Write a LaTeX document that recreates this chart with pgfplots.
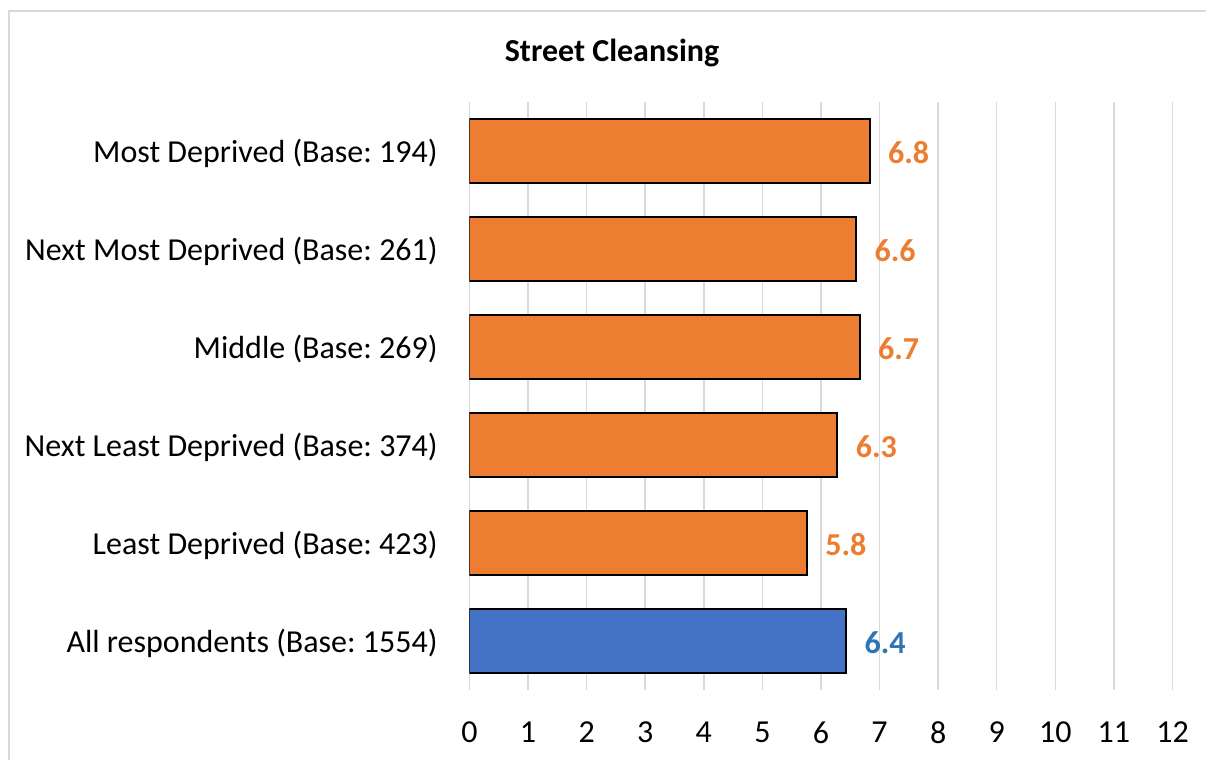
\documentclass[border=0pt]{standalone}
\usepackage{pgfplots}
\pgfplotsset{compat=1.18}
\usepackage{fontspec}
\setmainfont{Carlito}
\frenchspacing
\definecolor{barorange}{HTML}{ED7D31}
\definecolor{barblue}{HTML}{4472C4}
\definecolor{lblorange}{HTML}{ED7D31}
\definecolor{lblblue}{HTML}{2E75B6}
\definecolor{gridgray}{HTML}{D9D9D9}
\begin{document}
\begin{tikzpicture}[x=0.5pt,y=0.5pt]
\useasboundingbox (0,0) rectangle (1206,760);
\draw[gridgray, line width=1pt] (8.5,0) -- (8.5,748.5) -- (1206,748.5);
\node[font=\fontsize{16pt}{19pt}\selectfont\bfseries] at (612,707) {Street Cleansing};
\begin{axis}[
  at={(234.75pt,35pt)}, anchor=south west,
  scale only axis, width=351.5pt, height=294pt,
  xmin=0, xmax=12, ymin=-0.5, ymax=5.5,
  xbar, bar width=0.663, bar shift=0pt,
  axis line style={draw=none},
  xtick={0,...,12}, ytick={0,...,5},
  yticklabels={All respondents (Base: 1554),Least Deprived (Base: 423),Next Least Deprived (Base: 374),Middle (Base: 269),Next Most Deprived (Base: 261),Most Deprived (Base: 194)},
  xmajorgrids, grid style={gridgray, line width=0.75pt},
  major tick length=0pt,
  /pgf/number format/assume math mode=true,
  tick label style={font=\fontsize{16pt}{19pt}\selectfont},
  xticklabel style={anchor=center, yshift=-21.25pt},
  yticklabel style={anchor=east, inner sep=0pt, xshift=-15.75pt, yshift=-1.2pt},
  nodes near coords,
  nodes near coords style={anchor=west, inner sep=0pt, xshift=8.75pt, yshift=-0.6pt, font=\fontsize{16pt}{19pt}\selectfont\bfseries,
    /pgf/number format/fixed, /pgf/number format/fixed zerofill, /pgf/number format/precision=1, /pgf/number format/assume math mode=true},
]
\addplot[fill=barorange, draw=black, line width=1pt, every node near coord/.append style={text=lblorange}]
  coordinates {(5.76,1) (6.28,2) (6.66,3) (6.60,4) (6.83,5)};
\addplot[fill=barblue, draw=black, line width=1pt, every node near coord/.append style={text=lblblue}]
  coordinates {(6.43,0)};
\end{axis}
\end{tikzpicture}
\end{document}
